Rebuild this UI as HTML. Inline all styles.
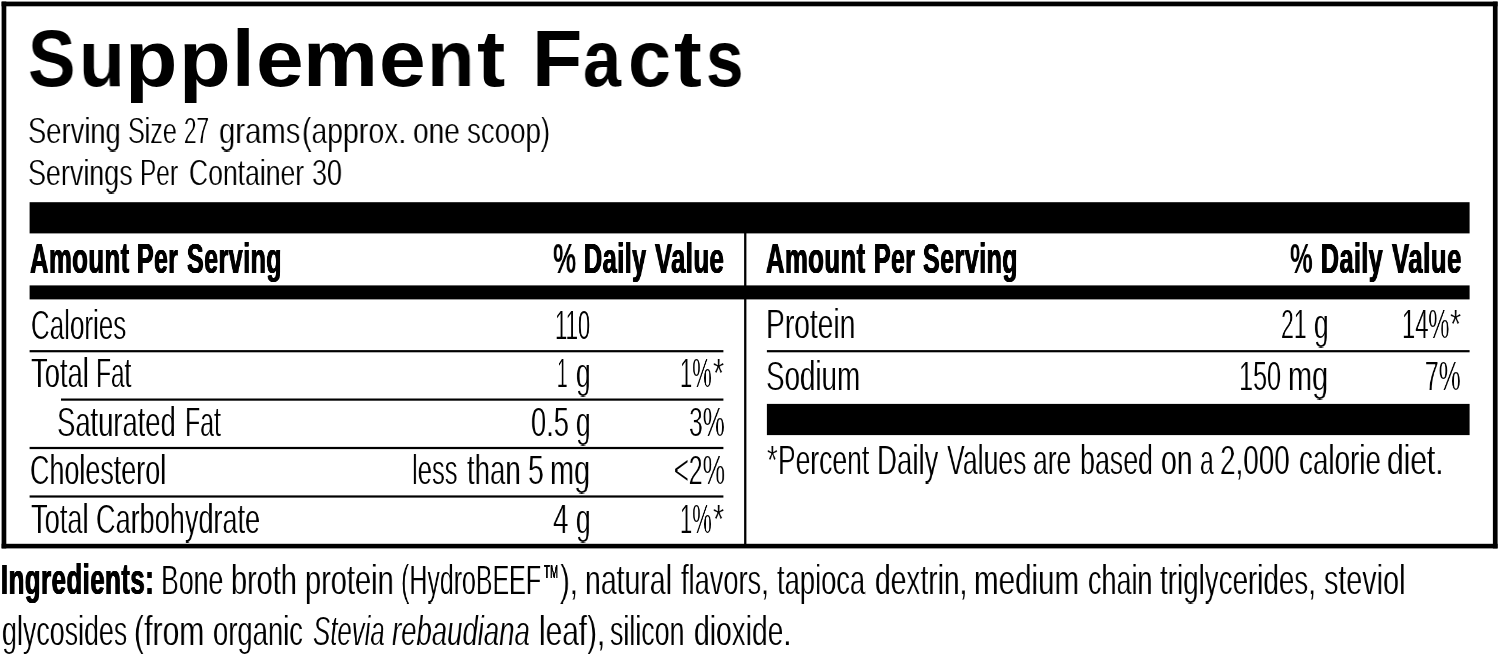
<!DOCTYPE html><html><head><meta charset="utf-8"><title>Supplement Facts</title><style>
html,body{margin:0;padding:0;background:#fff;}
body{width:1500px;height:654px;position:relative;overflow:hidden;font-family:"Liberation Sans",sans-serif;color:#000;}
.t{position:absolute;white-space:nowrap;transform-origin:0 0;line-height:0;height:0;will-change:transform;}
svg{position:absolute;left:0;top:0;z-index:5;}
.a{background:#fff;}
.b{position:absolute;left:0;mix-blend-mode:lighten;}
</style></head><body>
<svg width="1500" height="654" viewBox="0 0 1500 654" shape-rendering="auto">
<rect x="1.60" y="1.60" width="1496.00" height="4.70" fill="#000"/>
<rect x="1.60" y="543.80" width="1496.00" height="4.60" fill="#000"/>
<rect x="1.60" y="1.60" width="4.70" height="546.80" fill="#000"/>
<rect x="1492.90" y="1.60" width="4.70" height="546.80" fill="#000"/>
<rect x="29.60" y="202.20" width="1440.00" height="31.20" fill="#000"/>
<rect x="29.60" y="285.40" width="1440.00" height="14.00" fill="#000"/>
<rect x="744.10" y="233.00" width="2.30" height="311.00" fill="#000"/>
<rect x="29.60" y="350.10" width="693.80" height="2.20" fill="#000"/>
<rect x="61.00" y="398.50" width="662.40" height="2.20" fill="#000"/>
<rect x="29.60" y="446.90" width="693.80" height="2.20" fill="#000"/>
<rect x="29.60" y="495.40" width="693.80" height="2.20" fill="#000"/>
<rect x="766.90" y="350.10" width="702.70" height="2.20" fill="#000"/>
<rect x="766.90" y="403.90" width="702.70" height="31.20" fill="#000"/>
</svg>
<div class="t" id="t0" style="left:28.09px;top:58.50px;font-size:78.78px;transform:scaleX(0.9032);font-weight:700;">S</div>
<div class="t" id="t1" style="left:79.28px;top:58.50px;font-size:78.78px;transform:scaleX(0.9492);font-weight:700;">u</div>
<div class="t" id="t2" style="left:125.08px;top:58.50px;font-size:78.78px;transform:scaleX(1.0906);font-weight:700;">p</div>
<div class="t" id="t3" style="left:178.95px;top:58.50px;font-size:78.78px;transform:scaleX(1.0738);font-weight:700;">p</div>
<div class="t" id="t4" style="left:232.42px;top:58.50px;font-size:78.78px;transform:scaleX(1.0294);font-weight:700;">l</div>
<div class="t" id="t5" style="left:255.62px;top:58.50px;font-size:78.78px;transform:scaleX(1.0877);font-weight:700;">e</div>
<div class="t" id="t6" style="left:303.10px;top:58.50px;font-size:78.78px;transform:scaleX(1.0697);font-weight:700;">m</div>
<div class="t" id="t7" style="left:378.75px;top:58.50px;font-size:78.78px;transform:scaleX(1.0652);font-weight:700;">e</div>
<div class="t" id="t8" style="left:426.78px;top:58.50px;font-size:78.78px;transform:scaleX(0.9860);font-weight:700;">n</div>
<div class="t" id="t9" style="left:476.92px;top:58.50px;font-size:78.78px;transform:scaleX(1.0779);font-weight:700;">t</div>
<div class="t" id="t10" style="left:532.24px;top:58.50px;font-size:78.78px;transform:scaleX(1.0455);font-weight:700;">F</div>
<div class="t" id="t11" style="left:582.59px;top:58.50px;font-size:78.78px;transform:scaleX(0.8670);font-weight:700;">a</div>
<div class="t" id="t12" style="left:627.72px;top:58.50px;font-size:78.78px;transform:scaleX(0.9817);font-weight:700;">c</div>
<div class="t" id="t13" style="left:674.38px;top:58.50px;font-size:78.78px;transform:scaleX(1.0586);font-weight:700;">t</div>
<div class="t" id="t14" style="left:705.88px;top:58.50px;font-size:78.78px;transform:scaleX(0.8559);font-weight:700;">s</div>
<div class="t" id="t15" style="left:28.15px;top:130.50px;font-size:36.92px;transform:scaleX(0.7413);clip-path:inset(-17.3px -3px -22.4px -3px);"><span class="a">Serving</span><span class="b" aria-hidden="true" style="top:1.0px"><span class="a">Serving</span></span></div>
<div class="t" id="t16" style="left:128.22px;top:130.50px;font-size:36.92px;transform:scaleX(0.6795);clip-path:inset(-17.3px -3px -22.4px -3px);"><span class="a">Size</span><span class="b" aria-hidden="true" style="top:1.0px"><span class="a">Size</span></span></div>
<div class="t" id="t17" style="left:183.95px;top:130.50px;font-size:36.92px;transform:scaleX(0.6078);clip-path:inset(-17.3px -3px -22.4px -3px);"><span class="a">27</span><span class="b" aria-hidden="true" style="top:1.0px"><span class="a">27</span></span></div>
<div class="t" id="t18" style="left:218.95px;top:130.50px;font-size:36.92px;transform:scaleX(0.7943);clip-path:inset(-17.3px -3px -22.4px -3px);"><span class="a">grams</span><span class="b" aria-hidden="true" style="top:1.0px"><span class="a">grams</span></span></div>
<div class="t" id="t19" style="left:302.11px;top:130.50px;font-size:36.92px;transform:scaleX(0.7695);clip-path:inset(-17.3px -3px -22.4px -3px);"><span class="a">(approx.</span><span class="b" aria-hidden="true" style="top:1.0px"><span class="a">(approx.</span></span></div>
<div class="t" id="t20" style="left:413.13px;top:130.50px;font-size:36.92px;transform:scaleX(0.7593);clip-path:inset(-17.3px -3px -22.4px -3px);"><span class="a">one</span><span class="b" aria-hidden="true" style="top:1.0px"><span class="a">one</span></span></div>
<div class="t" id="t21" style="left:466.85px;top:130.50px;font-size:36.92px;transform:scaleX(0.7497);clip-path:inset(-17.3px -3px -22.4px -3px);"><span class="a">scoop)</span><span class="b" aria-hidden="true" style="top:1.0px"><span class="a">scoop)</span></span></div>
<div class="t" id="t22" style="left:28.16px;top:172.90px;font-size:36.92px;transform:scaleX(0.7288);clip-path:inset(-17.3px -3px -22.4px -3px);"><span class="a">Servings</span><span class="b" aria-hidden="true" style="top:1.0px"><span class="a">Servings</span></span></div>
<div class="t" id="t23" style="left:140.03px;top:172.90px;font-size:36.92px;transform:scaleX(0.6605);clip-path:inset(-17.3px -3px -22.4px -3px);"><span class="a">Per</span><span class="b" aria-hidden="true" style="top:1.0px"><span class="a">Per</span></span></div>
<div class="t" id="t24" style="left:188.76px;top:172.90px;font-size:36.92px;transform:scaleX(0.7187);clip-path:inset(-17.3px -3px -22.4px -3px);"><span class="a">Container</span><span class="b" aria-hidden="true" style="top:1.0px"><span class="a">Container</span></span></div>
<div class="t" id="t25" style="left:312.45px;top:172.90px;font-size:36.92px;transform:scaleX(0.7307);clip-path:inset(-17.3px -3px -22.4px -3px);"><span class="a">30</span><span class="b" aria-hidden="true" style="top:1.0px"><span class="a">30</span></span></div>
<div class="t" id="t26" style="left:29.79px;top:258.50px;font-size:42.15px;transform:scaleX(0.6076);font-weight:700;letter-spacing:0.8px;text-shadow:0.7px 0 0 #000,-0.7px 0 0 #000,0.35px 0 0 #000,-0.35px 0 0 #000;">Amount</div>
<div class="t" id="t27" style="left:136.86px;top:258.50px;font-size:42.15px;transform:scaleX(0.5883);font-weight:700;letter-spacing:0.8px;text-shadow:0.7px 0 0 #000,-0.7px 0 0 #000,0.35px 0 0 #000,-0.35px 0 0 #000;">Per</div>
<div class="t" id="t28" style="left:186.62px;top:258.50px;font-size:42.15px;transform:scaleX(0.5932);font-weight:700;letter-spacing:0.8px;text-shadow:0.7px 0 0 #000,-0.7px 0 0 #000,0.35px 0 0 #000,-0.35px 0 0 #000;">Serving</div>
<div class="t" id="t29" style="left:553.04px;top:258.50px;font-size:42.15px;transform:scaleX(0.6187);font-weight:700;">%</div>
<div class="t" id="t30" style="left:584.39px;top:258.50px;font-size:42.15px;transform:scaleX(0.5978);font-weight:700;letter-spacing:0.8px;text-shadow:0.7px 0 0 #000,-0.7px 0 0 #000,0.35px 0 0 #000,-0.35px 0 0 #000;">Daily</div>
<div class="t" id="t31" style="left:655.32px;top:258.50px;font-size:42.15px;transform:scaleX(0.6072);font-weight:700;letter-spacing:0.8px;text-shadow:0.7px 0 0 #000,-0.7px 0 0 #000,0.35px 0 0 #000,-0.35px 0 0 #000;">Value</div>
<div class="t" id="t32" style="left:766.07px;top:258.50px;font-size:42.15px;transform:scaleX(0.6076);font-weight:700;letter-spacing:0.8px;text-shadow:0.7px 0 0 #000,-0.7px 0 0 #000,0.35px 0 0 #000,-0.35px 0 0 #000;">Amount</div>
<div class="t" id="t33" style="left:873.94px;top:258.50px;font-size:42.15px;transform:scaleX(0.5883);font-weight:700;letter-spacing:0.8px;text-shadow:0.7px 0 0 #000,-0.7px 0 0 #000,0.35px 0 0 #000,-0.35px 0 0 #000;">Per</div>
<div class="t" id="t34" style="left:922.90px;top:258.50px;font-size:42.15px;transform:scaleX(0.5932);font-weight:700;letter-spacing:0.8px;text-shadow:0.7px 0 0 #000,-0.7px 0 0 #000,0.35px 0 0 #000,-0.35px 0 0 #000;">Serving</div>
<div class="t" id="t35" style="left:1290.31px;top:258.50px;font-size:42.15px;transform:scaleX(0.6040);font-weight:700;">%</div>
<div class="t" id="t36" style="left:1320.50px;top:258.50px;font-size:42.15px;transform:scaleX(0.5930);font-weight:700;letter-spacing:0.8px;text-shadow:0.7px 0 0 #000,-0.7px 0 0 #000,0.35px 0 0 #000,-0.35px 0 0 #000;">Daily</div>
<div class="t" id="t37" style="left:1391.69px;top:258.50px;font-size:42.15px;transform:scaleX(0.6123);font-weight:700;letter-spacing:0.8px;text-shadow:0.7px 0 0 #000,-0.7px 0 0 #000,0.35px 0 0 #000,-0.35px 0 0 #000;">Value</div>
<div class="t" id="t38" style="left:30.63px;top:323.50px;font-size:42.59px;transform:scaleX(0.6092);clip-path:inset(-19.0px -3px -26.2px -3px);"><span class="a">Calories</span><span class="b" aria-hidden="true" style="top:1.0px"><span class="a">Calories</span></span></div>
<div class="t" id="t39" style="left:30.55px;top:372.10px;font-size:42.59px;transform:scaleX(0.6426);clip-path:inset(-19.0px -3px -26.2px -3px);"><span class="a">Total</span><span class="b" aria-hidden="true" style="top:1.0px"><span class="a">Total</span></span></div>
<div class="t" id="t40" style="left:95.64px;top:372.10px;font-size:42.59px;transform:scaleX(0.5734);clip-path:inset(-19.0px -3px -26.2px -3px);"><span class="a">Fat</span><span class="b" aria-hidden="true" style="top:1.0px"><span class="a">Fat</span></span></div>
<div class="t" id="t41" style="left:56.87px;top:420.60px;font-size:42.59px;transform:scaleX(0.6430);clip-path:inset(-19.0px -3px -26.2px -3px);"><span class="a">Saturated</span><span class="b" aria-hidden="true" style="top:1.0px"><span class="a">Saturated</span></span></div>
<div class="t" id="t42" style="left:184.54px;top:420.60px;font-size:42.59px;transform:scaleX(0.5831);clip-path:inset(-19.0px -3px -26.2px -3px);"><span class="a">Fat</span><span class="b" aria-hidden="true" style="top:1.0px"><span class="a">Fat</span></span></div>
<div class="t" id="t43" style="left:29.60px;top:469.20px;font-size:42.59px;transform:scaleX(0.6323);clip-path:inset(-19.0px -3px -26.2px -3px);"><span class="a">Cholesterol</span><span class="b" aria-hidden="true" style="top:1.0px"><span class="a">Cholesterol</span></span></div>
<div class="t" id="t44" style="left:31.10px;top:517.60px;font-size:42.59px;transform:scaleX(0.6396);clip-path:inset(-19.0px -3px -26.2px -3px);"><span class="a">Total</span><span class="b" aria-hidden="true" style="top:1.0px"><span class="a">Total</span></span></div>
<div class="t" id="t45" style="left:96.49px;top:517.60px;font-size:42.59px;transform:scaleX(0.6360);clip-path:inset(-19.0px -3px -26.2px -3px);"><span class="a">Carbohydrate</span><span class="b" aria-hidden="true" style="top:1.0px"><span class="a">Carbohydrate</span></span></div>
<div class="t" id="t46" style="left:555.34px;top:323.50px;font-size:42.59px;transform:scaleX(0.5172);clip-path:inset(-19.0px -3px -26.2px -3px);"><span class="a">110</span><span class="b" aria-hidden="true" style="top:1.0px"><span class="a">110</span></span></div>
<div class="t" id="t47" style="left:557.17px;top:372.10px;font-size:42.59px;transform:scaleX(0.4423);clip-path:inset(-19.0px -3px -26.2px -3px);"><span class="a">1</span><span class="b" aria-hidden="true" style="top:1.0px"><span class="a">1</span></span></div>
<div class="t" id="t48" style="left:575.92px;top:372.10px;font-size:42.59px;transform:scaleX(0.6134);clip-path:inset(-19.0px -3px -26.2px -3px);"><span class="a">g</span><span class="b" aria-hidden="true" style="top:1.0px"><span class="a">g</span></span></div>
<div class="t" id="t49" style="left:531.05px;top:420.60px;font-size:42.59px;transform:scaleX(0.6405);clip-path:inset(-19.0px -3px -26.2px -3px);"><span class="a">0.5</span><span class="b" aria-hidden="true" style="top:1.0px"><span class="a">0.5</span></span></div>
<div class="t" id="t50" style="left:575.92px;top:420.60px;font-size:42.59px;transform:scaleX(0.6134);clip-path:inset(-19.0px -3px -26.2px -3px);"><span class="a">g</span><span class="b" aria-hidden="true" style="top:1.0px"><span class="a">g</span></span></div>
<div class="t" id="t51" style="left:412.00px;top:469.20px;font-size:42.59px;transform:scaleX(0.6008);clip-path:inset(-19.0px -3px -26.2px -3px);"><span class="a">less</span><span class="b" aria-hidden="true" style="top:1.0px"><span class="a">less</span></span></div>
<div class="t" id="t52" style="left:466.70px;top:469.20px;font-size:42.59px;transform:scaleX(0.6478);clip-path:inset(-19.0px -3px -26.2px -3px);"><span class="a">than</span><span class="b" aria-hidden="true" style="top:1.0px"><span class="a">than</span></span></div>
<div class="t" id="t53" style="left:528.40px;top:469.20px;font-size:42.59px;transform:scaleX(0.6671);clip-path:inset(-19.0px -3px -26.2px -3px);"><span class="a">5</span><span class="b" aria-hidden="true" style="top:1.0px"><span class="a">5</span></span></div>
<div class="t" id="t54" style="left:550.02px;top:469.20px;font-size:42.59px;transform:scaleX(0.6775);clip-path:inset(-19.0px -3px -26.2px -3px);"><span class="a">mg</span><span class="b" aria-hidden="true" style="top:1.0px"><span class="a">mg</span></span></div>
<div class="t" id="t55" style="left:553.28px;top:517.60px;font-size:42.59px;transform:scaleX(0.6487);clip-path:inset(-19.0px -3px -26.2px -3px);"><span class="a">4</span><span class="b" aria-hidden="true" style="top:1.0px"><span class="a">4</span></span></div>
<div class="t" id="t56" style="left:575.92px;top:517.60px;font-size:42.59px;transform:scaleX(0.6134);clip-path:inset(-19.0px -3px -26.2px -3px);"><span class="a">g</span><span class="b" aria-hidden="true" style="top:1.0px"><span class="a">g</span></span></div>
<div class="t" id="t57" style="left:680.28px;top:372.10px;font-size:42.59px;transform:scaleX(0.5149);clip-path:inset(-19.0px -3px -26.2px -3px);"><span class="a">1%</span><span class="b" aria-hidden="true" style="top:1.0px"><span class="a">1%</span></span></div>
<div class="t" id="t58" style="left:713.38px;top:372.10px;font-size:42.59px;transform:scaleX(0.6667);clip-path:inset(-19.0px -3px -26.2px -3px);"><span class="a">*</span><span class="b" aria-hidden="true" style="top:1.0px"><span class="a">*</span></span></div>
<div class="t" id="t59" style="left:688.88px;top:420.60px;font-size:42.59px;transform:scaleX(0.5788);clip-path:inset(-19.0px -3px -26.2px -3px);"><span class="a">3%</span><span class="b" aria-hidden="true" style="top:1.0px"><span class="a">3%</span></span></div>
<div class="t" id="t60" style="left:673.82px;top:469.20px;font-size:42.59px;transform:scaleX(0.5911);clip-path:inset(-19.0px -3px -26.2px -3px);"><span class="a">&lt;2%</span><span class="b" aria-hidden="true" style="top:1.0px"><span class="a">&lt;2%</span></span></div>
<div class="t" id="t61" style="left:680.28px;top:517.60px;font-size:42.59px;transform:scaleX(0.5149);clip-path:inset(-19.0px -3px -26.2px -3px);"><span class="a">1%</span><span class="b" aria-hidden="true" style="top:1.0px"><span class="a">1%</span></span></div>
<div class="t" id="t62" style="left:713.38px;top:517.60px;font-size:42.59px;transform:scaleX(0.6667);clip-path:inset(-19.0px -3px -26.2px -3px);"><span class="a">*</span><span class="b" aria-hidden="true" style="top:1.0px"><span class="a">*</span></span></div>
<div class="t" id="t63" style="left:766.21px;top:323.40px;font-size:42.59px;transform:scaleX(0.6624);clip-path:inset(-19.0px -3px -26.2px -3px);"><span class="a">Protein</span><span class="b" aria-hidden="true" style="top:1.0px"><span class="a">Protein</span></span></div>
<div class="t" id="t64" style="left:766.22px;top:374.60px;font-size:42.59px;transform:scaleX(0.6516);clip-path:inset(-19.0px -3px -26.2px -3px);"><span class="a">Sodium</span><span class="b" aria-hidden="true" style="top:1.0px"><span class="a">Sodium</span></span></div>
<div class="t" id="t65" style="left:1281.03px;top:323.40px;font-size:42.59px;transform:scaleX(0.5398);clip-path:inset(-19.0px -3px -26.2px -3px);"><span class="a">21</span><span class="b" aria-hidden="true" style="top:1.0px"><span class="a">21</span></span></div>
<div class="t" id="t66" style="left:1313.56px;top:323.40px;font-size:42.59px;transform:scaleX(0.6134);clip-path:inset(-19.0px -3px -26.2px -3px);"><span class="a">g</span><span class="b" aria-hidden="true" style="top:1.0px"><span class="a">g</span></span></div>
<div class="t" id="t67" style="left:1239.37px;top:374.60px;font-size:42.59px;transform:scaleX(0.5916);clip-path:inset(-19.0px -3px -26.2px -3px);"><span class="a">150</span><span class="b" aria-hidden="true" style="top:1.0px"><span class="a">150</span></span></div>
<div class="t" id="t68" style="left:1288.46px;top:374.60px;font-size:42.59px;transform:scaleX(0.6775);clip-path:inset(-19.0px -3px -26.2px -3px);"><span class="a">mg</span><span class="b" aria-hidden="true" style="top:1.0px"><span class="a">mg</span></span></div>
<div class="t" id="t69" style="left:1401.71px;top:323.40px;font-size:42.59px;transform:scaleX(0.5569);clip-path:inset(-19.0px -3px -26.2px -3px);"><span class="a">14%</span><span class="b" aria-hidden="true" style="top:1.0px"><span class="a">14%</span></span></div>
<div class="t" id="t70" style="left:1450.01px;top:323.40px;font-size:42.59px;transform:scaleX(0.6678);clip-path:inset(-19.0px -3px -26.2px -3px);"><span class="a">*</span><span class="b" aria-hidden="true" style="top:1.0px"><span class="a">*</span></span></div>
<div class="t" id="t71" style="left:1425.33px;top:374.60px;font-size:42.59px;transform:scaleX(0.5778);clip-path:inset(-19.0px -3px -26.2px -3px);"><span class="a">7%</span><span class="b" aria-hidden="true" style="top:1.0px"><span class="a">7%</span></span></div>
<div class="t" id="t72" style="left:767.40px;top:458.70px;font-size:42.59px;transform:scaleX(0.6411);clip-path:inset(-19.0px -3px -26.2px -3px);"><span class="a">*</span><span class="b" aria-hidden="true" style="top:1.0px"><span class="a">*</span></span></div>
<div class="t" id="t73" style="left:778.06px;top:458.70px;font-size:42.59px;transform:scaleX(0.6212);clip-path:inset(-19.0px -3px -26.2px -3px);"><span class="a">Percent</span><span class="b" aria-hidden="true" style="top:1.0px"><span class="a">Percent</span></span></div>
<div class="t" id="t74" style="left:877.26px;top:458.70px;font-size:42.59px;transform:scaleX(0.6491);clip-path:inset(-19.0px -3px -26.2px -3px);"><span class="a">Daily</span><span class="b" aria-hidden="true" style="top:1.0px"><span class="a">Daily</span></span></div>
<div class="t" id="t75" style="left:946.52px;top:458.70px;font-size:42.59px;transform:scaleX(0.6255);clip-path:inset(-19.0px -3px -26.2px -3px);"><span class="a">Values</span><span class="b" aria-hidden="true" style="top:1.0px"><span class="a">Values</span></span></div>
<div class="t" id="t76" style="left:1033.46px;top:458.70px;font-size:42.59px;transform:scaleX(0.6209);clip-path:inset(-19.0px -3px -26.2px -3px);"><span class="a">are</span><span class="b" aria-hidden="true" style="top:1.0px"><span class="a">are</span></span></div>
<div class="t" id="t77" style="left:1079.91px;top:458.70px;font-size:42.59px;transform:scaleX(0.6293);clip-path:inset(-19.0px -3px -26.2px -3px);"><span class="a">based</span><span class="b" aria-hidden="true" style="top:1.0px"><span class="a">based</span></span></div>
<div class="t" id="t78" style="left:1160.76px;top:458.70px;font-size:42.59px;transform:scaleX(0.6653);clip-path:inset(-19.0px -3px -26.2px -3px);"><span class="a">on</span><span class="b" aria-hidden="true" style="top:1.0px"><span class="a">on</span></span></div>
<div class="t" id="t79" style="left:1199.61px;top:458.70px;font-size:42.59px;transform:scaleX(0.5766);clip-path:inset(-19.0px -3px -26.2px -3px);"><span class="a">a</span><span class="b" aria-hidden="true" style="top:1.0px"><span class="a">a</span></span></div>
<div class="t" id="t80" style="left:1220.02px;top:458.70px;font-size:42.59px;transform:scaleX(0.6546);clip-path:inset(-19.0px -3px -26.2px -3px);"><span class="a">2,000</span><span class="b" aria-hidden="true" style="top:1.0px"><span class="a">2,000</span></span></div>
<div class="t" id="t81" style="left:1298.67px;top:458.70px;font-size:42.59px;transform:scaleX(0.6531);clip-path:inset(-19.0px -3px -26.2px -3px);"><span class="a">calorie</span><span class="b" aria-hidden="true" style="top:1.0px"><span class="a">calorie</span></span></div>
<div class="t" id="t82" style="left:1387.35px;top:458.70px;font-size:42.59px;transform:scaleX(0.7020);clip-path:inset(-19.0px -3px -26.2px -3px);"><span class="a">diet.</span><span class="b" aria-hidden="true" style="top:1.0px"><span class="a">diet.</span></span></div>
<div class="t" id="t83" style="left:1.46px;top:579.70px;font-size:41.86px;transform:scaleX(0.6150);font-weight:700;letter-spacing:0.8px;text-shadow:0.7px 0 0 #000,-0.7px 0 0 #000,0.35px 0 0 #000,-0.35px 0 0 #000;">Ingredients:</div>
<div class="t" id="t84" style="left:160.51px;top:579.20px;font-size:42.59px;transform:scaleX(0.6262);clip-path:inset(-19.0px -3px -26.2px -3px);"><span class="a">Bone</span><span class="b" aria-hidden="true" style="top:1.0px"><span class="a">Bone</span></span></div>
<div class="t" id="t85" style="left:230.74px;top:579.20px;font-size:42.59px;transform:scaleX(0.6788);clip-path:inset(-19.0px -3px -26.2px -3px);"><span class="a">broth</span><span class="b" aria-hidden="true" style="top:1.0px"><span class="a">broth</span></span></div>
<div class="t" id="t86" style="left:304.73px;top:579.20px;font-size:42.59px;transform:scaleX(0.6816);clip-path:inset(-19.0px -3px -26.2px -3px);"><span class="a">protein</span><span class="b" aria-hidden="true" style="top:1.0px"><span class="a">protein</span></span></div>
<div class="t" id="t87" style="left:400.82px;top:579.20px;font-size:42.59px;transform:scaleX(0.5859);clip-path:inset(-19.0px -3px -26.2px -3px);"><span class="a">(HydroBEEF</span><span class="b" aria-hidden="true" style="top:1.0px"><span class="a">(HydroBEEF</span></span></div>
<div class="t" id="t88" style="left:543.56px;top:572.10px;font-size:17.73px;transform:scaleX(0.5374);letter-spacing:0.5px;text-shadow:0.15px 0 0 #000,-0.15px 0 0 #000,0.075px 0 0 #000,-0.075px 0 0 #000;">TM</div>
<div class="t" id="t89" style="left:559.96px;top:579.20px;font-size:42.59px;transform:scaleX(0.6905);clip-path:inset(-19.0px -3px -26.2px -3px);"><span class="a">),</span><span class="b" aria-hidden="true" style="top:1.0px"><span class="a">),</span></span></div>
<div class="t" id="t90" style="left:584.76px;top:579.20px;font-size:42.59px;transform:scaleX(0.6677);clip-path:inset(-19.0px -3px -26.2px -3px);"><span class="a">natural</span><span class="b" aria-hidden="true" style="top:1.0px"><span class="a">natural</span></span></div>
<div class="t" id="t91" style="left:681.06px;top:579.20px;font-size:42.59px;transform:scaleX(0.6393);clip-path:inset(-19.0px -3px -26.2px -3px);"><span class="a">flavors,</span><span class="b" aria-hidden="true" style="top:1.0px"><span class="a">flavors,</span></span></div>
<div class="t" id="t92" style="left:777.14px;top:579.20px;font-size:42.59px;transform:scaleX(0.6420);clip-path:inset(-19.0px -3px -26.2px -3px);"><span class="a">tapioca</span><span class="b" aria-hidden="true" style="top:1.0px"><span class="a">tapioca</span></span></div>
<div class="t" id="t93" style="left:875.12px;top:579.20px;font-size:42.59px;transform:scaleX(0.6615);clip-path:inset(-19.0px -3px -26.2px -3px);"><span class="a">dextrin,</span><span class="b" aria-hidden="true" style="top:1.0px"><span class="a">dextrin,</span></span></div>
<div class="t" id="t94" style="left:974.24px;top:579.20px;font-size:42.59px;transform:scaleX(0.6937);clip-path:inset(-19.0px -3px -26.2px -3px);"><span class="a">medium</span><span class="b" aria-hidden="true" style="top:1.0px"><span class="a">medium</span></span></div>
<div class="t" id="t95" style="left:1087.70px;top:579.20px;font-size:42.59px;transform:scaleX(0.6331);clip-path:inset(-19.0px -3px -26.2px -3px);"><span class="a">chain</span><span class="b" aria-hidden="true" style="top:1.0px"><span class="a">chain</span></span></div>
<div class="t" id="t96" style="left:1159.60px;top:579.20px;font-size:42.59px;transform:scaleX(0.6523);clip-path:inset(-19.0px -3px -26.2px -3px);"><span class="a">triglycerides,</span><span class="b" aria-hidden="true" style="top:1.0px"><span class="a">triglycerides,</span></span></div>
<div class="t" id="t97" style="left:1323.83px;top:579.20px;font-size:42.59px;transform:scaleX(0.6745);clip-path:inset(-19.0px -3px -26.2px -3px);"><span class="a">steviol</span><span class="b" aria-hidden="true" style="top:1.0px"><span class="a">steviol</span></span></div>
<div class="t" id="t98" style="left:1.94px;top:630.40px;font-size:42.59px;transform:scaleX(0.6302);clip-path:inset(-19.0px -3px -26.2px -3px);"><span class="a">glycosides</span><span class="b" aria-hidden="true" style="top:1.0px"><span class="a">glycosides</span></span></div>
<div class="t" id="t99" style="left:133.96px;top:630.40px;font-size:42.59px;transform:scaleX(0.7086);clip-path:inset(-19.0px -3px -26.2px -3px);"><span class="a">(from</span><span class="b" aria-hidden="true" style="top:1.0px"><span class="a">(from</span></span></div>
<div class="t" id="t100" style="left:212.69px;top:630.40px;font-size:42.59px;transform:scaleX(0.6444);clip-path:inset(-19.0px -3px -26.2px -3px);"><span class="a">organic</span><span class="b" aria-hidden="true" style="top:1.0px"><span class="a">organic</span></span></div>
<div class="t" id="t101" style="left:312.78px;top:630.40px;font-size:42.59px;transform:scaleX(0.6054);font-style:italic;clip-path:inset(-19.0px -3px -26.2px -3px);"><span class="a">Stevia</span><span class="b" aria-hidden="true" style="top:1.0px"><span class="a">Stevia</span></span></div>
<div class="t" id="t102" style="left:392.27px;top:630.40px;font-size:42.59px;transform:scaleX(0.6465);font-style:italic;clip-path:inset(-19.0px -3px -26.2px -3px);"><span class="a">rebaudiana</span><span class="b" aria-hidden="true" style="top:1.0px"><span class="a">rebaudiana</span></span></div>
<div class="t" id="t103" style="left:538.77px;top:630.40px;font-size:42.59px;transform:scaleX(0.6990);clip-path:inset(-19.0px -3px -26.2px -3px);"><span class="a">leaf),</span><span class="b" aria-hidden="true" style="top:1.0px"><span class="a">leaf),</span></span></div>
<div class="t" id="t104" style="left:609.86px;top:630.40px;font-size:42.59px;transform:scaleX(0.6287);clip-path:inset(-19.0px -3px -26.2px -3px);"><span class="a">silicon</span><span class="b" aria-hidden="true" style="top:1.0px"><span class="a">silicon</span></span></div>
<div class="t" id="t105" style="left:694.12px;top:630.40px;font-size:42.59px;transform:scaleX(0.6623);clip-path:inset(-19.0px -3px -26.2px -3px);"><span class="a">dioxide.</span><span class="b" aria-hidden="true" style="top:1.0px"><span class="a">dioxide.</span></span></div>
</body></html>
